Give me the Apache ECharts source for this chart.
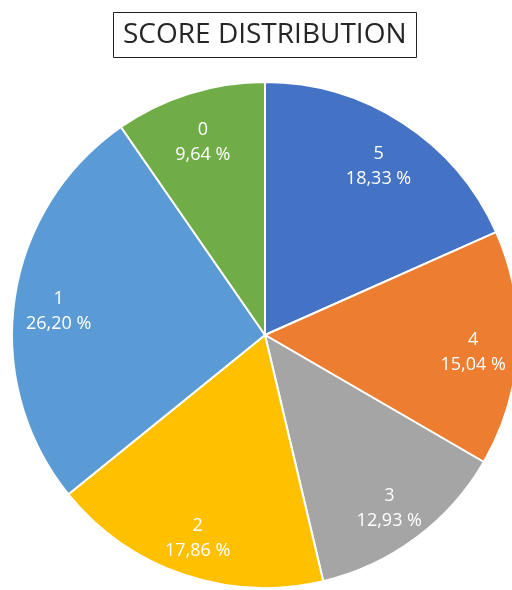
<!DOCTYPE html>
<html>
<head>
<meta charset="utf-8">
<script src="https://cdn.jsdelivr.net/npm/echarts@6/dist/echarts.min.js"></script>
<style>
  html, body { margin: 0; padding: 0; background: #fff; }
  #chart { width: 512px; height: 590px; }
</style>
</head>
<body>
<div id="chart"></div>
<script>
// scores in clockwise order from 12 o'clock
const scores = ['5', '4', '3', '2', '1', '0']
const shares = [18.33, 15.04, 12.93, 17.86, 26.20, 9.64]
const colors = ['#4472C4', '#ED7D31', '#A5A5A5', '#FFC000', '#5B9BD5', '#70AD47']

const chart = echarts.init(document.getElementById('chart'))

const pieData = scores.map((s, i) => ({
  name: s,
  value: shares[i],
  itemStyle: { color: colors[i] }
}))

const option = {
  animation: false,
  title: {
    text: 'SCORE DISTRIBUTION',
    left: 113,
    top: 12,
    padding: [9, 10, 9, 10],
    borderColor: '#222',
    borderWidth: 1,
    textStyle: {
      fontFamily: 'Open Sans',
      fontWeight: 'normal',
      fontSize: 28,
      color: '#262626'
    }
  },
  series: [
    {
      // the slices
      type: 'pie',
      center: [265, 335],
      radius: 253,
      startAngle: 90,
      clockwise: true,
      label: { show: false },
      labelLine: { show: false },
      itemStyle: { borderColor: '#fff', borderWidth: 2 },
      data: pieData
    },
    {
      // label ring, only used to place the labels further out
      type: 'pie',
      silent: true,
      center: [265, 335],
      radius: [158, 253],
      startAngle: 90,
      clockwise: true,
      itemStyle: { color: 'rgba(0,0,0,0)' },
      labelLine: { show: false },
      label: {
        show: true,
        position: 'inside',
        offset: [0, 6],
        color: '#fff',
        fontFamily: 'Open Sans',
        fontSize: 18,
        lineHeight: 25,
        formatter: p => `${p.name}\n${p.value.toFixed(2).replace('.', ',')} %`
      },
      data: pieData.map(d => ({ name: d.name, value: d.value }))
    }
  ]
}

chart.setOption(option)
</script>
</body>
</html>
